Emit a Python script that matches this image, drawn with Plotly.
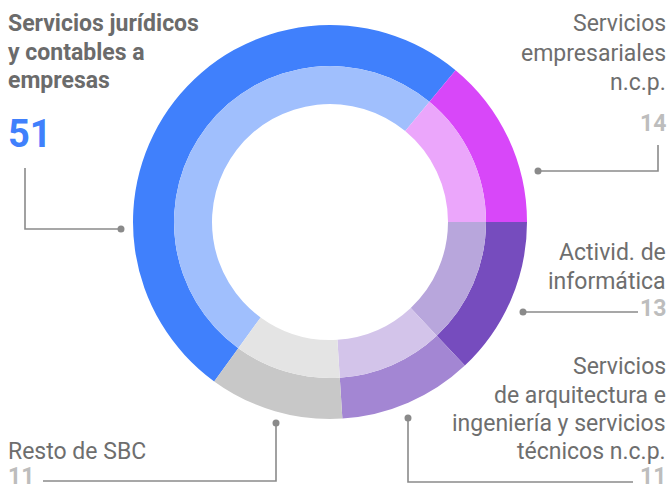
import plotly.graph_objects as go

W, H = 672, 490

# Data
categories = ["Servicios jurídicos y contables a empresas", "Servicios empresariales n.c.p.",
              "Activid. de informática", "Servicios de arquitectura e ingeniería y servicios técnicos n.c.p.",
              "Resto de SBC"]
values = [51, 14, 13, 11, 11]
outer_colors = ["#4080FC", "#D847F9", "#764CBE", "#A386D3", "#C8C8C8"]
inner_colors = ["#A0BFFD", "#EBA6FB", "#B8A6DC", "#D3C4EA", "#E4E4E4"]

# Layout geometry (pixels)
CX, CY = 330, 222
R_OUT, R_MID, R_IN = 197, 156, 118


def dom(r):
    return dict(x=[(CX - r) / W, (CX + r) / W],
                y=[(H - CY - r) / H, (H - CY + r) / H])


fig = go.Figure()
fig.add_trace(go.Pie(values=values, labels=categories, sort=False, direction="clockwise",
                     rotation=216, hole=R_MID / R_OUT, domain=dom(R_OUT),
                     marker=dict(colors=outer_colors, line=dict(width=0)),
                     textinfo="none", hoverinfo="label+value", showlegend=False))
fig.add_trace(go.Pie(values=values, labels=categories, sort=False, direction="clockwise",
                     rotation=216, hole=R_IN / R_MID, domain=dom(R_MID),
                     marker=dict(colors=inner_colors, line=dict(width=0)),
                     textinfo="none", hoverinfo="label+value", showlegend=False))

FONT = "Roboto"
TXT = "#6E6E6E"
NUM = "#BDBDBD"
LINE = "#8A8A8A"

annotations = []


def px(x):
    return x / W


def py(y):
    return 1 - y / H


def text(x, baseline, s, size, color, anchor, bold=False):
    if bold:
        s = "<b>" + s + "</b>"
    annotations.append(dict(x=px(x), y=py(baseline - 0.36 * size), xref="paper", yref="paper",
                            text=s, showarrow=False, xanchor=anchor, yanchor="middle",
                            font=dict(family=FONT, size=size, color=color)))


# Left label
for i, s in enumerate(["Servicios jurídicos", "y contables a", "empresas"]):
    text(6, 32 + i * 28.5, s, 23, "#6B6B6B", "left", bold=True)
text(6, 148, str(values[0]), 38, outer_colors[0], "left", bold=True)

# Right top
for i, s in enumerate(["Servicios", "empresariales", "n.c.p."]):
    text(668, 32 + i * 29.5, s, 23, TXT, "right")
text(668, 132, str(values[1]), 23, NUM, "right", bold=True)

for i, s in enumerate(["Activid. de", "informática"]):
    text(668, 261 + i * 28.5, s, 23, TXT, "right")
text(668, 317, str(values[2]), 23, NUM, "right", bold=True)

for i, s in enumerate(["Servicios", "de arquitectura e", "ingeniería y servicios", "técnicos n.c.p."]):
    text(668, 375 + i * 28.3, s, 23, TXT, "right")
text(668, 485, str(values[3]), 23, NUM, "right", bold=True)

text(6, 460, "Resto de SBC", 23, TXT, "left")
text(6, 485, str(values[4]), 23, NUM, "left", bold=True)

shapes = []


def line(pts):
    path = "M " + " L ".join(f"{px(x)},{py(y)}" for x, y in pts)
    shapes.append(dict(type="path", path=path, xref="paper", yref="paper",
                       line=dict(color=LINE, width=1.6)))


def dot(x, y, r=3.5):
    shapes.append(dict(type="circle", xref="paper", yref="paper",
                       x0=px(x - r), x1=px(x + r), y0=py(y - r), y1=py(y + r),
                       fillcolor=LINE, line=dict(width=0)))


line([(25, 168), (25, 229), (121, 229)]); dot(121, 229)
line([(658, 145), (658, 171), (538, 171)]); dot(538, 171)
line([(638, 312), (523, 312)]); dot(523, 312)
line([(633, 482), (408, 482), (408, 418)]); dot(408, 418)
line([(43, 481), (276, 481), (276, 423)]); dot(276, 423)

fig.update_layout(width=W, height=H, margin=dict(l=0, r=0, t=0, b=0),
                  paper_bgcolor="white", plot_bgcolor="white",
                  annotations=annotations, shapes=shapes)

fig.write_html("out.html")
